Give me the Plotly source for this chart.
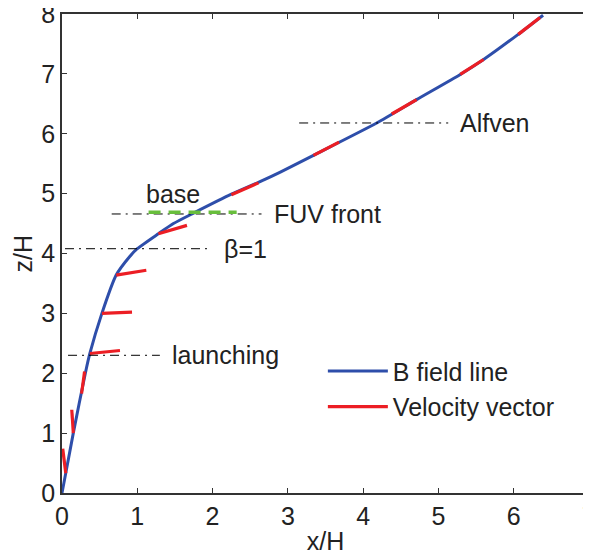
import plotly.graph_objects as go

# B field line (x/H, z/H)
field_x = [0, 0.15, 0.31, 0.37, 0.53, 0.72, 0.90, 1.00, 1.28, 1.48, 1.74, 2.25, 2.63, 2.90, 3.34, 4.18, 4.71, 5.29, 5.60, 6.06, 6.39]
field_z = [0, 1.00, 2.00, 2.33, 3.00, 3.64, 3.95, 4.08, 4.33, 4.50, 4.67, 4.99, 5.20, 5.36, 5.64, 6.18, 6.57, 6.99, 7.24, 7.66, 7.98]

# Velocity vectors: start (on field line) and end points
vel_x0 = [0.05, 0.15, 0.26, 0.37, 0.53, 0.72, 1.28, 2.25, 3.34, 4.38, 5.29, 6.06]
vel_z0 = [0.33, 1.00, 1.66, 2.33, 3.00, 3.64, 4.33, 4.98, 5.64, 6.33, 6.99, 7.66]
vel_x1 = [0.01, 0.13, 0.30, 0.77, 0.93, 1.12, 1.66, 2.61, 3.68, 4.71, 5.60, 6.35]
vel_z1 = [0.74, 1.39, 2.03, 2.38, 3.02, 3.72, 4.47, 5.18, 5.86, 6.57, 7.24, 7.94]

# Reference levels
level_names = ["launching", "β=1", "FUV front", "Alfven"]
level_z = [2.30, 4.08, 4.66, 6.18]
level_x0 = [0.08, 0.04, 0.66, 3.15]
level_x1 = [1.30, 1.99, 2.65, 5.13]

base_z = 4.69
base_x = [1.15, 2.32]

blue = "rgb(46,78,170)"
red = "rgb(236,30,36)"
green = "rgb(104,190,60)"
FONT = "Liberation Sans, Arial, sans-serif"
FS = 25

fig = go.Figure()

fig.add_trace(go.Scatter(x=field_x, y=field_z, mode="lines", name="B field line",
                         line=dict(color=blue, width=3, shape="spline", smoothing=0.6)))

vx, vz = [], []
for a, b, c, d in zip(vel_x0, vel_z0, vel_x1, vel_z1):
    vx += [a, c, None]
    vz += [b, d, None]
fig.add_trace(go.Scatter(x=vx, y=vz, mode="lines", name="Velocity vector",
                         line=dict(color=red, width=3.2)))

for name, z, a, b in zip(level_names, level_z, level_x0, level_x1):
    fig.add_trace(go.Scatter(x=[a, b], y=[z, z], mode="lines", showlegend=False,
                             line=dict(color="black", width=1, dash="9px,5px,2px,5px")))
    fig.add_annotation(x=b, y=z, text=name, xref="x", yref="y", xanchor="left",
                       yanchor="middle", xshift=10, showarrow=False,
                       font=dict(size=FS, color="#222", family=FONT))

fig.add_trace(go.Scatter(x=base_x, y=[base_z, base_z], mode="lines", showlegend=False,
                         line=dict(color=green, width=3.5, dash="12px,8px")))
fig.add_annotation(x=1.48, y=5.0, text="base", xref="x", yref="y", showarrow=False,
                   xanchor="center", yanchor="middle",
                   font=dict(size=FS, color="#222", family=FONT))

# y axis title
fig.add_annotation(x=0, y=0.5, xref="paper", yref="paper", text="z/H", textangle=-90,
                   xanchor="center", yanchor="middle", xshift=-40, showarrow=False,
                   font=dict(size=FS, color="#222", family=FONT))

axis_common = dict(showline=True, linecolor="#333", linewidth=1.5, mirror="ticks",
                   ticks="inside", ticklen=5, tickcolor="#333", showgrid=False,
                   zeroline=False, automargin=False, ticklabeloverflow="allow",
                   tickfont=dict(size=FS, color="#222", family=FONT))

fig.update_xaxes(range=[0, 7], dtick=1,
                 title=dict(text="x/H", font=dict(size=FS, color="#222", family=FONT), standoff=4),
                 **axis_common)
fig.update_yaxes(range=[0, 8], dtick=1, **axis_common)

# the page body has an 8px default margin, so offsets are compensated here
fig.update_layout(
    width=591, height=556,
    margin=dict(l=54, r=10, t=6, b=71),
    plot_bgcolor="white", paper_bgcolor="white",
    legend=dict(x=0.495, y=0.302, xanchor="left", yanchor="top",
                bgcolor="rgba(255,255,255,0)", itemwidth=60,
                font=dict(size=FS, color="#222", family=FONT)),
)

fig.write_html("out.html")
